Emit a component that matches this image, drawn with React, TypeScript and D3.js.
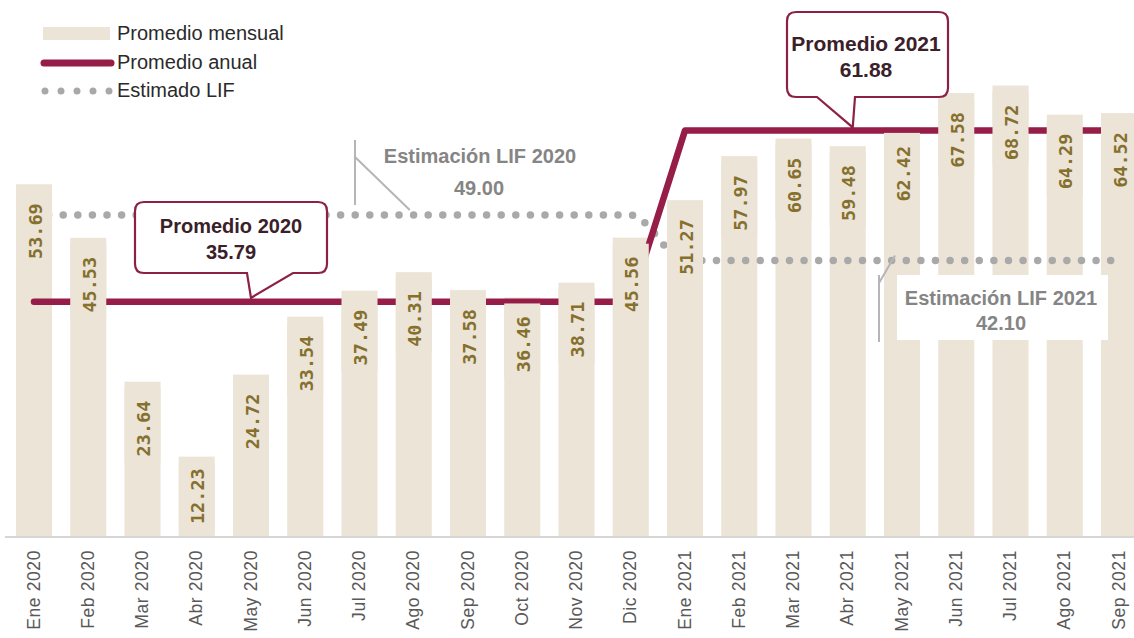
import * as d3 from "d3";
import React from "react";

const months = [
	"Ene 2020", "Feb 2020", "Mar 2020", "Abr 2020", "May 2020", "Jun 2020", "Jul 2020",
	"Ago 2020", "Sep 2020", "Oct 2020", "Nov 2020", "Dic 2020", "Ene 2021", "Feb 2021",
	"Mar 2021", "Abr 2021", "May 2021", "Jun 2021", "Jul 2021", "Ago 2021", "Sep 2021",
];
// promedio mensual
const mensual = [
	53.69, 45.53, 23.64, 12.23, 24.72, 33.54, 37.49, 40.31, 37.58, 36.46, 38.71, 45.56,
	51.27, 57.97, 60.65, 59.48, 62.42, 67.58, 68.72, 64.29, 64.52,
];
// promedio anual
const anual = [
	35.79, 35.79, 35.79, 35.79, 35.79, 35.79, 35.79, 35.79, 35.79, 35.79, 35.79, 35.79,
	61.88, 61.88, 61.88, 61.88, 61.88, 61.88, 61.88, 61.88, 61.88,
];
// estimado LIF
const lif = [
	49.0, 49.0, 49.0, 49.0, 49.0, 49.0, 49.0, 49.0, 49.0, 49.0, 49.0, 49.0,
	42.1, 42.1, 42.1, 42.1, 42.1, 42.1, 42.1, 42.1, 42.1,
];
const legendLabels = ["Promedio mensual", "Promedio anual", "Estimado LIF"];

const W = 1134;
const H = 638;
const BAR = "#ece4d7";
const WINE = "#961d48";
const DOT = "#a9a9a9";
const LABEL = "#85702e";
const FONT = "'Liberation Sans', Arial, sans-serif";

// rounded box with a pointer at the bottom
function calloutPath(x0: number, y0: number, x1: number, y1: number, tl: number, tr: number, tx: number, ty: number) {
	const r = 9;
	return `M${x0 + r},${y0} H${x1 - r} Q${x1},${y0} ${x1},${y0 + r} V${y1 - r} Q${x1},${y1} ${x1 - r},${y1} H${tr} L${tx},${ty} L${tl},${y1} H${x0 + r} Q${x0},${y1} ${x0},${y1 - r} V${y0 + r} Q${x0},${y0} ${x0 + r},${y0} Z`;
}

export default function App() {
	const x = d3
		.scaleBand()
		.domain(months)
		.range([6.875, 1146.125])
		.paddingInner(0.336)
		.paddingOuter(0.168);
	const y = d3.scaleLinear().domain([0, 80]).range([537, 11.4]);
	const bw = x.bandwidth();
	const cx = (m: string) => (x(m) || 0) + bw / 2;

	const annualLine = d3
		.line<number>()
		.x((_, i) => cx(months[i]))
		.y((d) => y(d))(anual);
	const lifLine = d3
		.line<number>()
		.x((_, i) => cx(months[i]))
		.y((d) => y(d))
		.curve(d3.curveMonotoneX)(lif);

	const labelLen = 57;

	const tip2020 = { x: cx("May 2020"), y: y(35.79) - 4 };
	const tip2021 = { x: cx("Abr 2021") + 5, y: y(61.88) - 3 };
	const lif2020 = { x: cx("Ago 2020") - 4, y: y(49.0) - 5 };
	const lif2021 = { x: cx("May 2021") - 7, y: y(42.1) - 5 };

	return (
		<svg
			width={W}
			height={H}
			style={{ position: "absolute", left: 0, top: 0, background: "#fff" }}
			fontFamily={FONT}>
			{/* bars */}
			{mensual.map((v, i) => (
				<rect key={i} x={x(months[i])} y={y(v)} width={bw} height={y(0) - y(v)} fill={BAR} />
			))}
			<line x1={5} x2={W} y1={y(0)} y2={y(0)} stroke="#d6d6d6" strokeWidth={2} />

			{/* estimado LIF */}
			<path d={lifLine || ""} fill="none" stroke={DOT} strokeWidth={7.5} strokeLinecap="round" strokeDasharray="0 14.6" />
			{/* promedio anual */}
			<path d={annualLine || ""} fill="none" stroke={WINE} strokeWidth={6.5} strokeLinecap="round" strokeLinejoin="round" />

			{/* data labels, with bar-coloured background */}
			{mensual.map((v, i) => {
				const top = y(v);
				const h = y(0) - top;
				const off = Math.min(19, (h - labelLen) / 2);
				const px = cx(months[i]);
				return (
					<g key={i}>
						<rect x={x(months[i])} y={top + Math.min(6, off - 2)} width={bw} height={labelLen + off - Math.min(6, off - 2) + 5} fill={BAR} />
						<text
							transform={`translate(${px + 7.5}, ${top + off}) rotate(-90)`}
							textAnchor="end"
							fontFamily="'DejaVu Sans Mono', monospace"
							fontWeight="bold"
							fontSize={18.5}
							fill={LABEL}>
							{v.toFixed(2)}
						</text>
					</g>
				);
			})}

			{/* callout promedio 2020 */}
			<path d={calloutPath(135, 202, 327, 273, 247, 293, tip2020.x, tip2020.y)} fill="#fff" stroke="#8c2146" strokeWidth={2.2} />
			<text x={231} y={233} textAnchor="middle" fontWeight="bold" fontSize={20} fill="#3a2129">Promedio 2020</text>
			<text x={231} y={259} textAnchor="middle" fontWeight="bold" fontSize={20} fill="#3a2129">35.79</text>

			{/* callout promedio 2021 */}
			<path d={calloutPath(787, 12, 948, 97, 817, 855, tip2021.x, tip2021.y)} fill="#fff" stroke="#8c2146" strokeWidth={2.2} />
			<text x={866} y={51} textAnchor="middle" fontWeight="bold" fontSize={21} fill="#3a2129">Promedio 2021</text>
			<text x={866} y={77} textAnchor="middle" fontWeight="bold" fontSize={21} fill="#3a2129">61.88</text>

			{/* estimación LIF 2020 */}
			<line x1={355} x2={355} y1={140} y2={205} stroke="#b5b5b5" strokeWidth={2} />
			<line x1={355} x2={lif2020.x} y1={157} y2={lif2020.y} stroke="#b5b5b5" strokeWidth={2} />
			<text x={480} y={163} textAnchor="middle" fontWeight="bold" fontSize={20} fill="#858585">Estimación LIF 2020</text>
			<text x={479} y={195} textAnchor="middle" fontWeight="bold" fontSize={20} fill="#858585">49.00</text>

			{/* estimación LIF 2021 */}
			<rect x={897} y={275} width={211} height={65} fill="#fff" />
			<line x1={879} x2={879} y1={275} y2={342} stroke="#b5b5b5" strokeWidth={2} />
			<line x1={879} x2={lif2021.x} y1={283} y2={lif2021.y} stroke="#b5b5b5" strokeWidth={2} />
			<text x={1001} y={305} textAnchor="middle" fontWeight="bold" fontSize={20} fill="#858585">Estimación LIF 2021</text>
			<text x={1001} y={330} textAnchor="middle" fontWeight="bold" fontSize={20} fill="#858585">42.10</text>

			{/* legend */}
			<rect x={43} y={27} width={67} height={13} fill={BAR} />
			<line x1={44} x2={111} y1={63} y2={63} stroke={WINE} strokeWidth={7} strokeLinecap="round" />
			<line x1={45} x2={111} y1={91} y2={91} stroke={DOT} strokeWidth={7} strokeLinecap="round" strokeDasharray="0 16" />
			{legendLabels.map((t, i) => (
				<text key={t} x={117} y={40 + i * 28.5} fontSize={20} fill="#2a2a2a">{t}</text>
			))}

			{/* x axis labels */}
			{months.map((m) => (
				<text
					key={m}
					transform={`translate(${cx(m) + 5.5}, 550) rotate(-90)`}
					textAnchor="end"
					fontSize={17.5}
					letterSpacing={0.6}
					fill="#595959">
					{m}
				</text>
			))}
		</svg>
	);
}
